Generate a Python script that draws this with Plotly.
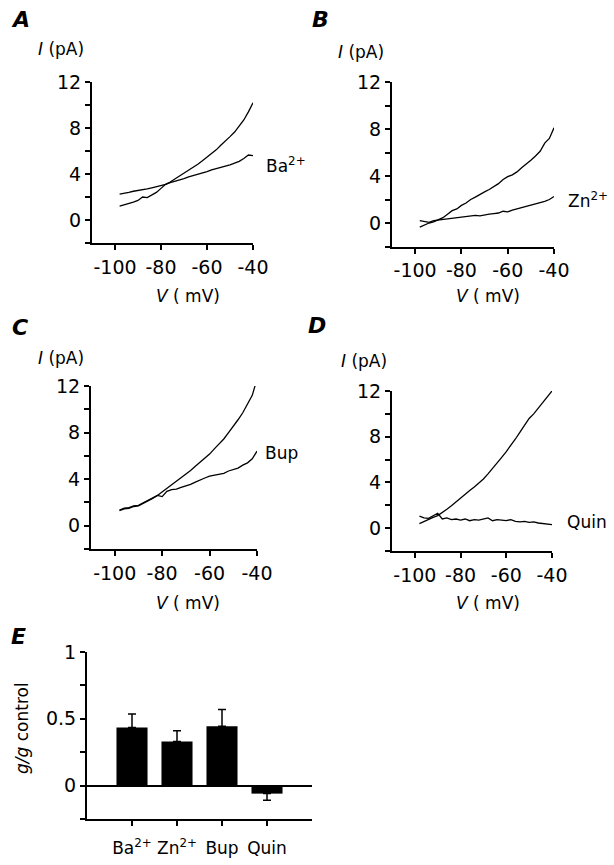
import plotly.graph_objects as go

# ---------------- data ----------------
V = [-98, -96, -94, -92, -90, -88, -86, -84, -82, -80, -78, -76, -74, -72, -70,
     -68, -66, -64, -62, -60, -58, -56, -54, -52, -50, -48, -46, -44, -42, -40]

A_control = [1.2, 1.3, 1.45, 1.55, 1.7, 2.0, 1.95, 2.2, 2.4, 2.75, 3.1, 3.3, 3.55, 3.8, 4.05,
             4.3, 4.6, 4.85, 5.15, 5.45, 5.8, 6.1, 6.5, 6.85, 7.25, 7.65, 8.15, 8.7, 9.4, 10.2]
A_ba = [2.25, 2.3, 2.4, 2.5, 2.55, 2.6, 2.7, 2.8, 2.9, 2.95, 3.1, 3.25, 3.35, 3.5, 3.6,
        3.75, 3.85, 4.0, 4.1, 4.2, 4.35, 4.45, 4.55, 4.65, 4.8, 4.95, 5.1, 5.35, 5.65, 5.6]

B_control = [-0.35, -0.15, 0.0, 0.1, 0.25, 0.45, 0.75, 1.05, 1.2, 1.5, 1.7, 2.0, 2.2, 2.45, 2.65,
             2.85, 3.1, 3.35, 3.7, 3.95, 4.1, 4.35, 4.7, 5.0, 5.35, 5.7, 6.1, 6.8, 7.2, 8.1]
B_zn = [0.2, 0.1, 0.05, 0.2, 0.25, 0.3, 0.4, 0.45, 0.5, 0.55, 0.55, 0.6, 0.65, 0.6, 0.7,
        0.75, 0.8, 0.85, 1.0, 0.95, 1.1, 1.2, 1.35, 1.4, 1.5, 1.6, 1.75, 1.85, 2.0, 2.25]

C_control = [1.3, 1.45, 1.5, 1.65, 1.7, 1.9, 2.1, 2.35, 2.6, 2.9, 3.2, 3.5, 3.8, 4.1, 4.4,
             4.75, 5.1, 5.45, 5.8, 6.15, 6.6, 7.0, 7.45, 8.0, 8.5, 9.1, 9.7, 10.4, 11.2, 12.6]
C_bup = [1.35, 1.5, 1.55, 1.7, 1.75, 1.95, 2.15, 2.4, 2.6, 2.5, 2.95, 3.1, 3.15, 3.3, 3.4,
         3.55, 3.75, 3.95, 4.1, 4.25, 4.35, 4.45, 4.5, 4.7, 4.8, 4.95, 5.2, 5.4, 5.75, 6.4]

D_control = [0.4, 0.6, 0.75, 0.95, 1.1, 1.35, 1.65, 1.95, 2.3, 2.6, 2.95, 3.3, 3.6, 3.95, 4.3,
             4.75, 5.2, 5.7, 6.2, 6.7, 7.2, 7.8, 8.4, 9.0, 9.6, 10.0, 10.5, 11.0, 11.4, 12.0]
D_quin = [1.05, 0.9, 0.85, 1.1, 1.3, 0.8, 0.9, 0.75, 0.8, 0.7, 0.8, 0.65, 0.75, 0.7, 0.8,
          0.9, 0.65, 0.75, 0.7, 0.65, 0.75, 0.6, 0.55, 0.6, 0.5, 0.55, 0.45, 0.4, 0.35, 0.3]

iv_tickvals = [0, 4, 8, 12]
iv_ticktext = ["0", "4", "8", "12"]
iv_minorvals = [-2, 2, 6, 10]
v_tickvals = [-100, -80, -60, -40]
v_ticktext = ["-100", "-80", "-60", "-40"]

E_categories = ["Ba<sup>2+</sup>", "Zn<sup>2+</sup>", "Bup", "Quin"]
E_values = [0.435, 0.33, 0.445, -0.06]
E_err_up = [0.10, 0.08, 0.125, 0.0]
E_err_down = [0.0, 0.0, 0.0, 0.05]
E_tickvals = [0, 0.5, 1]
E_ticktext = ["0", "0.5", "1"]
E_minorvals = [-0.25, 0.25, 0.75]

# ---------------- layout helpers ----------------
W, H = 614, 865
FONT = "DejaVu Sans"


def px(x):
    return x / W


def py(y):
    return 1 - y / H


fig = go.Figure()

panels = [
    ("", A_control, A_ba, "Ba<sup>2+</sup>", (92, 253), (82, 243), (264, 165)),
    ("2", B_control, B_zn, "Zn<sup>2+</sup>", (392, 554), (82, 246.5), (566, 200)),
    ("3", C_control, C_bup, "Bup", (91, 257), (386, 549), (263, 453)),
    ("4", D_control, D_quin, "Quin", (392, 552), (391, 551), (565, 522)),
]

line_style = dict(color="black", width=1.3)
axis_common = dict(showline=True, linecolor="black", linewidth=2, ticks="outside",
                   ticklen=5, tickwidth=2, tickcolor="black", showgrid=False,
                   zeroline=False, automargin=False,
                   tickfont=dict(family=FONT, size=19, color="black"))

for suf, ctrl, drug, lab, xd, yd, lpos in panels:
    xa = "x" + suf
    ya = "y" + suf
    fig.add_trace(go.Scatter(x=V, y=ctrl, mode="lines", line=line_style,
                             xaxis=xa, yaxis=ya, showlegend=False))
    fig.add_trace(go.Scatter(x=V, y=drug, mode="lines", line=line_style,
                             xaxis=xa, yaxis=ya, showlegend=False))
    fig.layout["xaxis" + suf] = dict(domain=[px(xd[0]), px(xd[1])], range=[-110, -40],
                                     anchor=ya, tickvals=v_tickvals, ticktext=v_ticktext,
                                     tickangle=0, ticklabelstandoff=1, **axis_common)
    fig.layout["yaxis" + suf] = dict(domain=[py(yd[1]), py(yd[0])], range=[-2, 12],
                                     anchor=xa, tickvals=iv_tickvals, ticktext=iv_ticktext,
                                     minor=dict(tickvals=iv_minorvals, ticks="outside", ticklen=5,
                                                tickwidth=2, tickcolor="black"),
                                     **axis_common)
    fig.add_annotation(text=lab, x=px(lpos[0]), y=py(lpos[1]), xref="paper", yref="paper",
                       xanchor="left", yanchor="middle", showarrow=False,
                       font=dict(family=FONT, size=17, color="black"))

letters = [("A", 9, 20), ("B", 310, 20), ("C", 10, 327), ("D", 306, 326), ("E", 9, 636)]
for t, x, y in letters:
    fig.add_annotation(text="<b><i>%s</i></b>" % t, x=px(x), y=py(y), xref="paper", yref="paper",
                       xanchor="left", yanchor="middle", showarrow=False,
                       font=dict(family=FONT, size=22, color="black"))

ititles = [(36, 49), (336, 52), (36, 358), (339, 361)]
for x, y in ititles:
    fig.add_annotation(text="<i>I</i> (pA)", x=px(x), y=py(y), xref="paper", yref="paper",
                       xanchor="left", yanchor="middle", showarrow=False,
                       font=dict(family=FONT, size=17, color="black"))

vtitles = [(188, 296), (488, 296), (188, 603), (488, 603)]
for x, y in vtitles:
    fig.add_annotation(text="<i>V</i> ( mV)", x=px(x), y=py(y), xref="paper", yref="paper",
                       xanchor="center", yanchor="middle", showarrow=False,
                       font=dict(family=FONT, size=17, color="black"))

# ---------------- panel E ----------------
fig.add_trace(go.Bar(x=[0, 1, 2, 3], y=E_values, width=0.69,
                     marker=dict(color="black", line=dict(width=0)),
                     error_y=dict(type="data", symmetric=False, array=E_err_up, arrayminus=E_err_down,
                                  color="black", thickness=1.5, width=4),
                     xaxis="x5", yaxis="y5", showlegend=False))
e_x = dict(axis_common)
e_x["tickfont"] = dict(family=FONT, size=17, color="black")
fig.layout["xaxis5"] = dict(domain=[px(87), px(312)], range=[-1, 4], anchor="y5",
                            tickvals=[0, 1, 2, 3], ticktext=E_categories, tickangle=0,
                            ticklabelstandoff=8, **e_x)
e_y = dict(axis_common)
e_y["zeroline"] = True
e_y["zerolinecolor"] = "black"
e_y["zerolinewidth"] = 1.5
fig.layout["yaxis5"] = dict(domain=[py(819), py(652)], range=[-0.25, 1], anchor="x5",
                            tickvals=E_tickvals, ticktext=E_ticktext,
                            minor=dict(tickvals=E_minorvals, ticks="outside", ticklen=5,
                                       tickwidth=2, tickcolor="black"),
                            **e_y)
fig.add_annotation(text="<i>g/g</i> control", x=px(22), y=py(728), xref="paper", yref="paper",
                   textangle=-90, xanchor="center", yanchor="middle", showarrow=False,
                   font=dict(family=FONT, size=17, color="black"))

fig.update_layout(width=W, height=H, margin=dict(l=0, r=0, t=0, b=0, autoexpand=False),
                  paper_bgcolor="white", plot_bgcolor="white")

fig.write_html("out.html", config={"displayModeBar": False},
               post_script="document.body.style.margin='0px';document.body.style.overflow='hidden';")
